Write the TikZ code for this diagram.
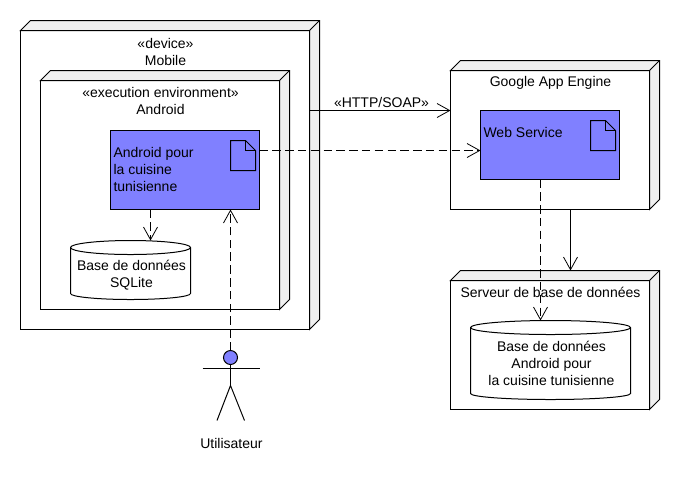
\documentclass[tikz,border=0pt]{standalone}
\usepackage{fontspec}
\setmainfont{Liberation Sans}
\usetikzlibrary{arrows.meta,calc}
\definecolor{sideface}{HTML}{F0F0F0}
\definecolor{artblue}{HTML}{8080FF}
\tikzset{
  thinline/.style={line width=0.75pt,draw=black},
  boxfront/.style={thinline,fill=white,rectangle,inner sep=0pt,outer sep=0pt,anchor=north west},
  artifactbox/.style={thinline,fill=artblue,rectangle,inner sep=0pt,outer sep=0pt,anchor=north west},
  cylbox/.style={rectangle,inner sep=0pt,outer sep=0pt,anchor=north west},
  lbl/.style={inner sep=0pt,outer sep=0pt,align=center,font=\fontsize{10.5}{12.75}\selectfont},
  lbll/.style={lbl,align=left,anchor=west},
  solidarrow/.style={thinline,-{Straight Barb[length=9.5pt,width=10.5pt,line width=0.6pt]}},
  deparrow/.style={solidarrow,dash pattern=on 6.4pt off 3.2pt}
}
\newcommand{\sidefaces}[1]{%
  \draw[thinline,fill=sideface,line join=miter]
    (#1.north west) -- ++(10,-10) -- ($(#1.north east)+(10,-10)$)
    -- ($(#1.south east)+(10,-10)$) -- (#1.south east) -- (#1.north east) -- cycle;
  \draw[thinline] (#1.north east) -- ++(10,-10);}
\newcommand{\cylinder}[2]{% node name, half-width in px
  \draw[thinline,fill=white]
    ($(#1.north west)+(0,7)$) arc[start angle=180,end angle=360,x radius=#2,y radius=7]
    -- ($(#1.south east)+(0,-6)$) arc[start angle=0,end angle=180,x radius=#2,y radius=6] -- cycle;
  \draw[thinline] ($(#1.north west)+(0,7)$) arc[start angle=180,end angle=0,x radius=#2,y radius=7];}
\newcommand{\docicon}[1]{% coordinate: top-left of the icon
  \draw[thinline,line join=miter] (#1) -- ++(15,0) -- ++(10,10) -- ++(0,20) -- ++(-25,0) -- cycle;
  \draw[thinline,line join=miter] ($(#1)+(15,0)$) -- ++(0,10) -- ++(10,0);}
\begin{document}
\begin{tikzpicture}[x=0.75pt,y=-0.75pt]
\useasboundingbox (-0.5,-0.5) rectangle (679.5,489.5);
% Mobile
\node[boxfront,minimum width=216.75pt,minimum height=224.25pt] (mobile) at (20,30) {};
\sidefaces{mobile}
\node[lbl] (mobiletxt) at (165,51) {«device»\\Mobile};
% Android
\node[boxfront,minimum width=179.25pt,minimum height=171.75pt] (android) at (40,80) {};
\sidefaces{android}
\node[lbl] (androidtxt) at (160,100.5) {«execution environment»\\Android};
% Artifact
\node[artifactbox,minimum width=111.75pt,minimum height=59.25pt] (app) at (110,130) {};
\coordinate (appicon) at (230,140);
\docicon{appicon}
\node[lbll] (apptxt) at (113,169) {Android pour\\la cuisine\\tunisienne};
% SQLite
\node[cylbox,minimum width=90pt,minimum height=44.25pt] (sqlite) at (70,240) {};
\cylinder{sqlite}{60}
\node[lbl] (sqlitetxt) at (131,275) {Base de données\\SQLite};
% Google App Engine
\node[boxfront,minimum width=149.25pt,minimum height=104.25pt] (gae) at (450,70) {};
\sidefaces{gae}
\node[lbl] (gaetxt) at (550,82) {Google App Engine};
% Web service
\node[artifactbox,minimum width=104.25pt,minimum height=51.75pt] (ws) at (480,110) {};
\coordinate (wsicon) at (590,120);
\docicon{wsicon}
\node[lbll] (wstxt) at (483,132) {Web Service};
% DB server
\node[boxfront,minimum width=149.25pt,minimum height=96.75pt] (server) at (450,280) {};
\sidefaces{server}
\node[lbl] (servertxt) at (550,292) {Serveur de base de données};
\node[cylbox,minimum width=120pt,minimum height=59.25pt] (dbtwo) at (470,320) {};
\cylinder{dbtwo}{80}
\node[lbl] (dbtwotxt) at (551,363) {Base de données\\Android pour\\la cuisine tunisienne};
% Actor
\node[thinline,circle,fill=artblue,minimum size=10.5pt,inner sep=0pt,outer sep=0pt] (head) at (230,357) {};
\coordinate (hip) at (230,385);
\coordinate (armL) at (202,368);
\coordinate (armR) at (259,368);
\coordinate (footL) at (216.5,420);
\coordinate (footR) at (244,420);
\draw[thinline] (head.south) -- (hip);
\draw[thinline] (armL) -- (armR);
\draw[thinline] (footL) -- (hip) -- (footR);
\node[lbl] (usertxt) at (231,443) {Utilisateur};
% Connectors
\coordinate (mobileport) at (mobile.east |- 0,110);
\draw[solidarrow] (mobileport) -- (mobileport -| gae.west);
\node[lbl] (httptxt) at (381,102) {«HTTP/SOAP»};
\coordinate (appport) at (app.east |- 0,150);
\draw[deparrow] (appport) -- (appport -| ws.west);
\coordinate (appdown) at (150,0);
\draw[deparrow] (app.south -| appdown) -- (appdown |- sqlite.north);
\draw[deparrow] (head.north) -- (head.north |- app.south);
\coordinate (wsdown) at (540,0);
\draw[deparrow] (ws.south -| wsdown) -- (wsdown |- dbtwo.north);
\coordinate (gaedown) at (570,0);
\draw[solidarrow] (gae.south -| gaedown) -- ($(gaedown |- server.north)+(0,-10)$);
\end{tikzpicture}
\end{document}
